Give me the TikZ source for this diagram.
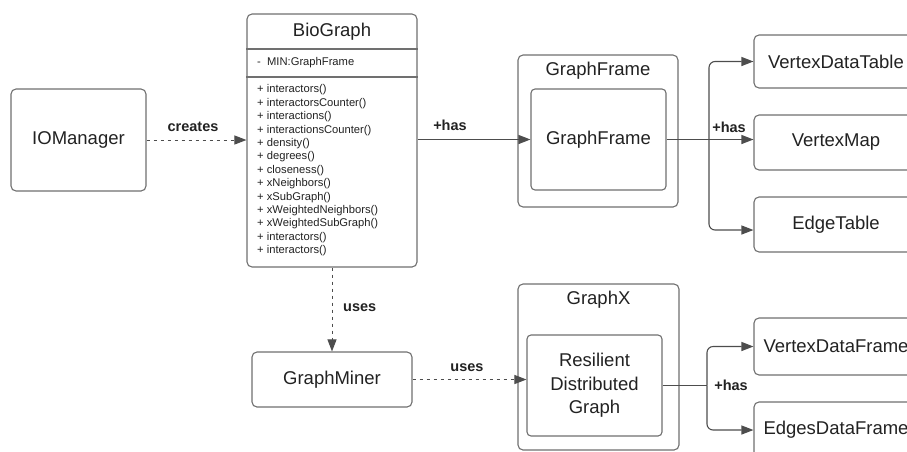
\documentclass[tikz,border=0pt]{standalone}
\usepackage{fontspec}
\setmainfont{Liberation Sans}
\usetikzlibrary{arrows.meta,calc}
\definecolor{boxline}{HTML}{707070}
\definecolor{connc}{HTML}{4D4D4D}
\definecolor{txt}{HTML}{222222}
\tikzset{
 box/.style={draw=boxline, line width=1.1pt, rounded corners=5pt, fill=white, text=txt,
   font=\fontsize{18.5}{22}\selectfont, align=center, inner sep=0pt},
 ibox/.style={box, rounded corners=4pt},
 method/.style={anchor=west, inner sep=0pt, text=txt, font=\fontsize{11.2}{13}\selectfont},
 ttl/.style={inner sep=0pt, text=txt, font=\fontsize{18.5}{22}\selectfont},
 lbl/.style={text=txt, font=\bfseries\fontsize{14.5}{17}\selectfont, inner sep=0pt},
 sep/.style={draw=boxline, line width=1.1pt},
 conn/.style={draw=connc, line width=1.1pt},
 arr/.style={conn, -{Triangle[length=12pt,width=9pt]}},
 dsh/.style={arr, line width=1pt, dash pattern=on 3.5pt off 3.5pt},
}
\begin{document}
\begin{tikzpicture}[x=1pt,y=-1pt]
\useasboundingbox (0,0) rectangle (907,451);
\clip (0,0) rectangle (907,451);

% IOManager
\node[box, minimum width=135pt, minimum height=102pt] (io) at (78.5,140) {IOManager};

% BioGraph class box
\node[box, minimum width=170pt, minimum height=253pt] (bio) at (332,140.5) {};
\coordinate (s1) at (0,49);
\coordinate (s2) at (0,77);
\draw[sep] (bio.west |- s1) -- (bio.east |- s1);
\draw[sep] (bio.west |- s2) -- (bio.east |- s2);
\node[ttl] (biot) at (332,31.5) {BioGraph};
\node[method] (attr) at (257,63) {-\ \ MIN:GraphFrame};
\foreach \t [count=\i] in {interactors,interactorsCounter,interactions,interactionsCounter,density,degrees,closeness,xNeighbors,xSubGraph,xWeightedNeighbors,xWeightedSubGraph,interactors,interactors}
  \node[method] (m\i) at (257,{90+13.4*(\i-1)}) {+ \t()};

% GraphFrame container
\node[box, minimum width=160pt, minimum height=152pt] (gfo) at (598,131) {};
\node[ttl] (gfot) at (598,71) {GraphFrame};
\node[ibox, minimum width=135pt, minimum height=101pt] (gfi) at (598.5,139.5) {GraphFrame};

% GraphMiner
\node[box, minimum width=160pt, minimum height=55pt] (gm) at (332,379.5) {GraphMiner};

% GraphX container
\node[box, minimum width=161pt, minimum height=166pt] (gx) at (598.5,367) {};
\node[ttl] (gxt) at (598.5,300) {GraphX};
\node[ibox, minimum width=135pt, minimum height=101pt, font=\fontsize{18.5}{23.5}\selectfont] (rdg) at (594.5,385.5) {Resilient\\Distributed\\Graph};

% Right boxes
\node[box, minimum width=164pt, minimum height=53pt] (vdt) at (836,61.5) {VertexDataTable};
\node[box, minimum width=164pt, minimum height=55pt] (vm) at (836,142.5) {VertexMap};
\node[box, minimum width=164pt, minimum height=55pt] (et) at (836,224.5) {EdgeTable};
\node[box, minimum width=164pt, minimum height=57pt] (vdf) at (836,346.5) {VertexDataFrame};
\node[box, minimum width=164pt, minimum height=56pt] (edf) at (836,430) {EdgesDataFrame};

% Connectors
\draw[dsh] (io.east) -- (io.east -| bio.west);
\node[lbl] (lcreates) at (193,127) {creates};

\draw[arr] (bio.east |- gfi.west) -- (gfi.west);
\node[lbl] (lhas1) at (450,125) {+has};

\draw[dsh] (bio.south) -- (gm.north);
\node[lbl, anchor=west] (luses1) at (343,308) {uses};

\draw[dsh] (gm.east) -- (gm.east -| rdg.west);
\node[lbl] (luses2) at (467,368) {uses};

% fork from GraphFrame
\coordinate (f1) at (709,139.5);
\draw[conn] (gfi.east) -- (f1);
\draw[arr, rounded corners=6pt] (f1) |- (vdt.west);
\draw[arr] (f1) -- (f1 -| vm.west);
\draw[arr, rounded corners=6pt] (f1) |- (et.west |- 0,230);
\node[lbl] (lhas2) at (729,127) {+has};

% fork from RDG
\coordinate (f2) at (707,385.5);
\draw[conn, line width=1.6pt] (rdg.east) -- (f2);
\draw[arr, rounded corners=6pt] (f2) |- (vdf.west);
\draw[arr, rounded corners=6pt] (f2) |- (edf.west);
\node[lbl] (lhas3) at (731,385) {+has};
\end{tikzpicture}
\end{document}
